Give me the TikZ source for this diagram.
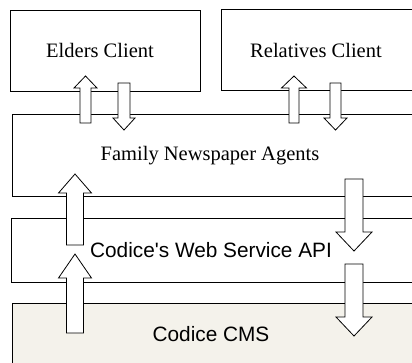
\documentclass[tikz,border=0pt]{standalone}
\usepackage{fontspec}
\setmainfont{Liberation Serif}
\newfontfamily\arialfam{Liberation Sans}
\definecolor{cmsfill}{RGB}{244,242,235}
\tikzset{
  boxline/.style={draw=black, line width=0.8pt},
  barrow/.style={draw=black, fill=white, line width=0.8pt, line join=miter},
  serifLabel/.style={font=\fontsize{20.5}{24}\selectfont, inner sep=0pt},
  sansLabel/.style={font=\arialfam\fontsize{20.8}{24}\selectfont, inner sep=0pt}
}
\newcommand{\blkup}[6]{\draw[barrow] ({#1-#2},#6) -- ({#1-#2},#5) -- ({#1-#3},#5) -- (#1,#4) -- ({#1+#3},#5) -- ({#1+#2},#5) -- ({#1+#2},#6) -- cycle;}
\newcommand{\blkdown}[6]{\draw[barrow] ({#1-#2},#4) -- ({#1-#2},#5) -- ({#1-#3},#5) -- (#1,#6) -- ({#1+#3},#5) -- ({#1+#2},#5) -- ({#1+#2},#4) -- cycle;}
\begin{document}
\begin{tikzpicture}[x=1pt,y=-1pt]
\clip (0,0) rectangle (412,362);
\fill[white] (0,0) rectangle (412,362);
% boxes
\draw[boxline] (10,10) rectangle (200,91);
\draw[boxline] (221,9) rectangle (430,90);
\draw[boxline] (12,114) rectangle (430,196);
\draw[boxline] (11,218) rectangle (430,282);
\draw[boxline, fill=cmsfill] (12,303) rectangle (430,380);
% block arrows
\blkup{85.5}{5.5}{11.5}{76}{88}{123}
\blkdown{124}{6}{11}{83}{118}{130}
\blkup{294}{5}{12.5}{76}{88}{123}
\blkdown{335.5}{5.5}{11.5}{83}{118}{130}
\blkup{75}{8.5}{16.5}{174}{193}{245}
\blkup{75}{8.5}{16.5}{254}{278}{333}
\blkdown{354}{9}{18}{179}{232}{251}
\blkdown{354}{9}{18}{264}{317}{336}
% labels
\node[serifLabel] (elders) at (100,50) {Elders Client};
\node[serifLabel] (relatives) at (316,50) {Relatives Client};
\node[serifLabel] (agents) at (210,156) {Family Newspaper Agents};
\node[sansLabel] (api) at (211,250) {Codice\textquotesingle s Web Service API};
\node[sansLabel] (cms) at (211,334) {Codice CMS};
\end{tikzpicture}
\end{document}
